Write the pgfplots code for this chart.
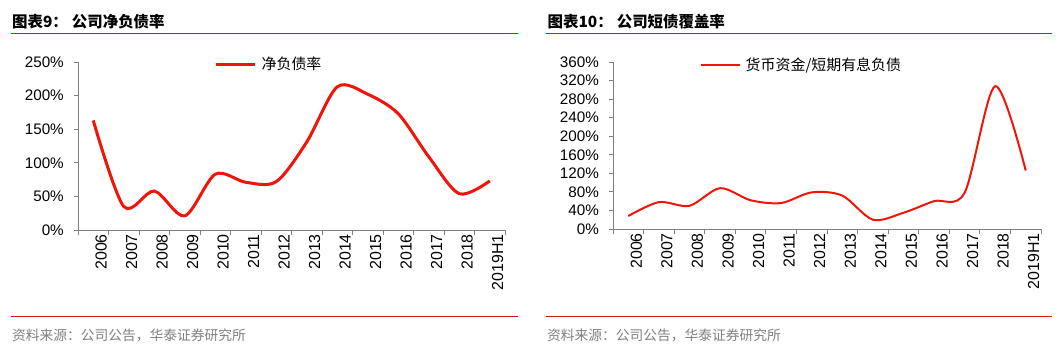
\documentclass[border=0pt]{standalone}
\usepackage{fontspec}
\setmainfont{Liberation Sans}
\newfontfamily\cjk{Noto Sans CJK SC}
\usepackage{pgfplots}
\pgfplotsset{compat=1.18}
\definecolor{serred}{RGB}{240,20,10}
\definecolor{rulered}{RGB}{205,30,20}
\definecolor{axisgray}{RGB}{128,128,128}
\definecolor{srcgray}{RGB}{128,128,128}
\pgfplotstableread{
x y
0 163
1 35
2 58
3 21
4 83
5 71
6 72
7 131
8 213
9 202
10 173
11 109
12 54
13 73
}\netdebt
\pgfplotstableread{
x y
0 28
1 58
2 50
3 88
4 62
5 56
6 79
7 72
8 20
9 35
10 60
11 78
12 308
13 126
}\cover
\pgfplotsset{
  common/.style={
    scale only axis,
    anchor=south west,
    xmin=-0.5, xmax=13.5,
    axis x line*=bottom, axis y line*=left,
    axis line style={draw=axisgray, line width=0.9bp, -},
    tick align=outside,
    xtick={0,...,13},
    xticklabels={2006,2007,2008,2009,2010,2011,2012,2013,2014,2015,2016,2017,2018,2019H1},
    major x tick style={draw=none},
    minor xtick={-0.5,0.5,...,13.5},
    minor tick length=5bp,
    minor x tick style={draw=axisgray, line width=0.9bp},
    major tick length=4bp,
    major y tick style={draw=axisgray, line width=0.9bp},
    xticklabel style={rotate=90, anchor=east, inner sep=0pt, yshift=-8bp, font=\fontsize{16}{18}\selectfont},
    yticklabel style={anchor=east, inner sep=0pt, xshift=-10bp, font=\fontsize{15.3}{18}\selectfont},
    /pgf/number format/assume math mode=true,
    legend cell align=left,
    legend style={draw=none, fill=none, inner sep=0pt, outer sep=0pt,
      nodes={inner sep=0pt, font=\fontsize{15}{18}\selectfont\cjk},
      /tikz/every odd column/.append style={column sep=5bp}},
  }
}
\begin{document}
\begin{tikzpicture}[x=1bp,y=1bp]
\useasboundingbox (0,0) rectangle (1062,350);
% ---- left panel decorations
\node[anchor=west, inner sep=0pt] at (12,328.5) {\fontsize{15.5}{18}\selectfont\cjk\bfseries 图表9：\hspace{4bp}公司净负债率};
\draw[rulered, line width=1bp] (11,316.7) -- (518,316.7);
\draw[rulered, line width=1bp] (11,33.5) -- (518,33.5);
\node[anchor=west, inner sep=0pt, text=srcgray] at (12,15) {\fontsize{13.8}{16}\selectfont\cjk 资料来源：公司公告，华泰证券研究所};
% ---- right panel decorations
\node[anchor=west, inner sep=0pt] at (547.5,328.5) {\fontsize{15.5}{18}\selectfont\cjk\bfseries 图表10：\hspace{4bp}公司短债覆盖率};
\draw[rulered, line width=1bp] (546,316.7) -- (1052,316.7);
\draw[rulered, line width=1bp] (546,33.5) -- (1052,33.5);
\node[anchor=west, inner sep=0pt, text=srcgray] at (547,15) {\fontsize{13.8}{16}\selectfont\cjk 资料来源：公司公告，华泰证券研究所};

\begin{axis}[common,
  at={(78bp,120bp)}, width=427bp, height=168bp,
  ymin=0, ymax=250,
  ytick={0,50,...,250},
  yticklabels={0\%,50\%,100\%,150\%,200\%,250\%},
  legend style={at={(0.320,0.987)}, anchor=west},
  legend image code/.code={\draw[#1] (0bp,0bp) -- (39bp,0bp);},
]
\addplot[serred, line width=3bp, smooth] table[x=x,y=y] {\netdebt};
\addlegendentry{净负债率}
\end{axis}

\begin{axis}[common,
  at={(613bp,121bp)}, width=428bp, height=167bp,
  ymin=0, ymax=360,
  ytick={0,40,...,360},
  yticklabels={0\%,40\%,80\%,120\%,160\%,200\%,240\%,280\%,320\%,360\%},
  legend style={at={(0.2026,0.980)}, anchor=west},
  legend image code/.code={\draw[#1] (0bp,0bp) -- (39bp,0bp);},
]
\addplot[serred, line width=2bp, smooth] table[x=x,y=y] {\cover};
\addlegendentry{货币资金/短期有息负债}
\end{axis}
\end{tikzpicture}
\end{document}
